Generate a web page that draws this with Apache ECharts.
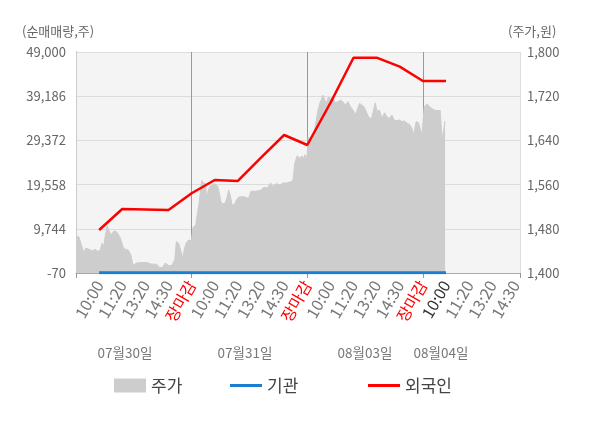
<!DOCTYPE html>
<html>
<head>
<meta charset="utf-8">
<script src="https://cdn.jsdelivr.net/npm/echarts@6/dist/echarts.min.js"></script>
<style>
html, body { margin: 0; padding: 0; background: #fff; }
#main { width: 600px; height: 428px; }
</style>
</head>
<body>
<div id="main"></div>
<script>
// x축 눈금 (슬롯 번호 0..19)
var timeLabels = ['', '10:00', '11:20', '13:20', '14:30', '장마감',
    '10:00', '11:20', '13:20', '14:30', '장마감',
    '10:00', '11:20', '13:20', '14:30', '장마감',
    '10:00', '11:20', '13:20', '14:30'];
var dayLabels = ['07월30일', '07월31일', '08월03일', '08월04일'];
var leftTicks = ['-70', '9,744', '19,558', '29,372', '39,186', '49,000'];
var rightTicks = ['1,400', '1,480', '1,560', '1,640', '1,720', '1,800'];

// 주가 (분봉, x = 슬롯 위치)
var d1x = [0, 0.13, 0.23, 0.35, 0.42, 0.57, 0.72, 0.82, 0.94, 1.05, 1.13, 1.20, 1.27, 1.35, 1.42, 1.52, 1.64, 1.74, 1.84, 1.93, 2.03, 2.13, 2.25, 2.37, 2.47, 2.62, 2.84, 3.06, 3.27, 3.49, 3.60, 3.74, 3.86, 4.01, 4.15, 4.27, 4.34, 4.44, 4.56, 4.62, 4.68, 4.77, 4.88, 4.99];
var d1p = [1467, 1465, 1451, 1436, 1445, 1443, 1440, 1443, 1439, 1442, 1454, 1448, 1469, 1485, 1477, 1469, 1476, 1475, 1469, 1462, 1448, 1442, 1442, 1433, 1414, 1418, 1419, 1419, 1416, 1416, 1410, 1410, 1418, 1413, 1414, 1424, 1457, 1454, 1436, 1427, 1442, 1455, 1460, 1458];
var d2x = [5.06, 5.17, 5.23, 5.31, 5.39, 5.44, 5.51, 5.60, 5.66, 5.72, 5.80, 5.92, 6.03, 6.13, 6.20, 6.27, 6.34, 6.46, 6.53, 6.60, 6.67, 6.75, 6.85, 6.95, 7.06, 7.27, 7.46, 7.56, 7.78, 7.99, 8.13, 8.28, 8.42, 8.52, 8.66, 8.81, 8.95, 9.13, 9.28, 9.38, 9.46, 9.56, 9.68, 9.78, 9.85, 9.89, 9.99];
var d2p = [1483, 1485, 1502, 1523, 1550, 1567, 1563, 1562, 1533, 1550, 1557, 1561, 1561, 1557, 1544, 1529, 1525, 1527, 1537, 1550, 1541, 1523, 1524, 1533, 1538, 1538, 1535, 1548, 1548, 1550, 1555, 1554, 1563, 1556, 1562, 1559, 1563, 1563, 1565, 1567, 1599, 1612, 1608, 1612, 1606, 1614, 1608];
var d3x = [10.04, 10.11, 10.18, 10.25, 10.32, 10.39, 10.47, 10.54, 10.61, 10.68, 10.75, 10.83, 10.90, 11.01, 11.11, 11.21, 11.33, 11.44, 11.54, 11.64, 11.76, 11.87, 11.98, 12.08, 12.16, 12.26, 12.36, 12.45, 12.55, 12.65, 12.77, 12.85, 12.94, 13.02, 13.12, 13.23, 13.34, 13.46, 13.56, 13.66, 13.77, 13.89, 13.99, 14.09, 14.20, 14.32, 14.42, 14.52, 14.60, 14.71, 14.81, 14.89, 14.96];
var d3p = [1646, 1644, 1640, 1647, 1659, 1677, 1695, 1707, 1714, 1722, 1714, 1707, 1718, 1716, 1718, 1708, 1710, 1713, 1710, 1704, 1710, 1701, 1695, 1686, 1687, 1707, 1704, 1701, 1692, 1683, 1678, 1680, 1708, 1692, 1695, 1680, 1690, 1682, 1680, 1686, 1676, 1676, 1677, 1674, 1675, 1671, 1669, 1662, 1650, 1674, 1672, 1671, 1650];
var d4x = [15.06, 15.18, 15.28, 15.38, 15.49, 15.64, 15.75, 15.83, 15.90, 15.96];
var d4p = [1701, 1706, 1702, 1698, 1695, 1694, 1694, 1641, 1639, 1675];

// 순매매량 (누적, 슬롯 1..16)
var flowX = [1, 2, 3, 4, 5, 6, 7, 8, 9, 10, 11, 12, 13, 14, 15, 16];
var foreign = [9480, 14140, 14030, 13920, 17630, 20580, 20360, 25530, 30570, 28350, 37680, 47735, 47735, 45740, 42560, 42560];
var institution = [0, 0, 0, 0, 0, 0, 0, 0, 0, 0, 0, 0, 0, 0, 0, 0];

var LEFT_MIN = -70, LEFT_STEP = 9814, RIGHT_MIN = 1400, RIGHT_STEP = 80;

function pairs(xs, ys, base) {
    return xs.map(function (x, i) { return [x, ys[i] - base]; });
}
var priceData = [].concat(pairs(d1x, d1p, RIGHT_MIN), pairs(d2x, d2p, RIGHT_MIN),
    pairs(d3x, d3p, RIGHT_MIN), pairs(d4x, d4p, RIGHT_MIN));

var myChart = echarts.init(document.getElementById('main'));
var font = '"Noto Sans CJK KR", "Noto Sans", sans-serif';
var legendText = { fontSize: 17, color: '#444', fontFamily: font };

var option = {
    animation: false,
    textStyle: { fontFamily: font },
    grid: {
        left: 76, right: 80, top: 52, bottom: 155,
        show: true, backgroundColor: '#f4f4f4', borderWidth: 0
    },
    legend: [
        { left: 114, top: 377, padding: 0, itemWidth: 32, itemHeight: 14, textStyle: legendText,
          data: [{ name: '주가', icon: 'rect', itemStyle: { color: '#cdcdcd' } }] },
        { left: 230, top: 377, padding: 0, itemWidth: 32, itemHeight: 3, textStyle: legendText,
          data: [{ name: '기관', icon: 'rect', itemStyle: { color: '#1a7fd0' } }] },
        { left: 368, top: 377, padding: 0, itemWidth: 32, itemHeight: 3, textStyle: legendText,
          data: [{ name: '외국인', icon: 'rect', itemStyle: { color: '#ff0000' } }] }
    ],
    xAxis: [{
        type: 'value', min: 0, max: 19.2, interval: 1,
        axisLine: { show: true, lineStyle: { color: '#aaa' } },
        axisTick: { show: false },
        splitLine: { show: false },
        axisLabel: {
            rotate: 60, margin: 9, fontSize: 16, color: '#777', fontFamily: font,
            formatter: function (v) {
                if (Math.abs(v - Math.round(v)) > 1e-6) return '';
                var t = timeLabels[Math.round(v)] || '';
                if (t === '장마감') return '{r|' + t + '}';
                if (Math.round(v) === 16) return '{d|' + t + '}';
                return t;
            },
            rich: {
                r: { color: '#ff0000', fontSize: 16, fontFamily: font },
                d: { color: '#333', fontSize: 16, fontFamily: font }
            }
        }
    }, {
        type: 'value', min: 0, max: 19.2, interval: 5, position: 'bottom',
        axisLine: { show: false },
        axisLabel: { show: false },
        axisTick: { show: true, length: 5, lineStyle: { color: '#999' } },
        splitLine: { show: true, lineStyle: { color: ['#999', '#999', '#999', '#999', '#ddd'] } }
    }],
    yAxis: [{
        type: 'value', min: 0, max: LEFT_STEP * 5, interval: LEFT_STEP,
        axisLine: { show: true, lineStyle: { color: '#999' } },
        axisTick: { show: false },
        splitLine: { show: true, lineStyle: { color: '#dcdcdc' } },
        axisLabel: {
            fontSize: 13, color: '#666', margin: 10, fontFamily: font,
            formatter: function (v) { return leftTicks[Math.round(v / LEFT_STEP)] || ''; }
        }
    }, {
        type: 'value', min: 0, max: RIGHT_STEP * 5, interval: RIGHT_STEP,
        position: 'right',
        axisLine: { show: true, lineStyle: { color: '#ccc' } },
        axisTick: { show: false },
        splitLine: { show: false },
        axisLabel: {
            fontSize: 13, color: '#666', margin: 7, fontFamily: font,
            formatter: function (v) { return rightTicks[Math.round(v / RIGHT_STEP)] || ''; }
        }
    }],
    graphic: [
        { type: 'text', left: 22, top: 25, style: { text: '(순매매량,주)', fill: '#666', font: '13px ' + font } },
        { type: 'text', left: 508, top: 25, style: { text: '(주가,원)', fill: '#666', font: '13px ' + font } },
        { type: 'text', x: 125, y: 353, style: { text: dayLabels[0], textAlign: 'center', textVerticalAlign: 'middle', fill: '#777', font: '13.5px ' + font } },
        { type: 'text', x: 245, y: 353, style: { text: dayLabels[1], textAlign: 'center', textVerticalAlign: 'middle', fill: '#777', font: '13.5px ' + font } },
        { type: 'text', x: 365, y: 353, style: { text: dayLabels[2], textAlign: 'center', textVerticalAlign: 'middle', fill: '#777', font: '13.5px ' + font } },
        { type: 'text', x: 441, y: 353, style: { text: dayLabels[3], textAlign: 'center', textVerticalAlign: 'middle', fill: '#777', font: '13.5px ' + font } }
    ],
    series: [{
        name: '주가', type: 'line', xAxisIndex: 0, yAxisIndex: 1,
        data: priceData, symbol: 'none', z: 1,
        lineStyle: { color: '#cdcdcd', width: 1 },
        itemStyle: { color: '#cdcdcd' },
        areaStyle: { color: '#cdcdcd', opacity: 1 }
    }, {
        name: '기관', type: 'line', xAxisIndex: 0, yAxisIndex: 0,
        data: pairs(flowX, institution, LEFT_MIN), symbol: 'none', z: 3,
        lineStyle: { color: '#1a7fd0', width: 3 },
        itemStyle: { color: '#1a7fd0' }
    }, {
        name: '외국인', type: 'line', xAxisIndex: 0, yAxisIndex: 0,
        data: pairs(flowX, foreign, LEFT_MIN), symbol: 'none', z: 4,
        lineStyle: { color: '#ff0000', width: 2.5 },
        itemStyle: { color: '#ff0000' }
    }]
};
myChart.setOption(option);
</script>
</body>
</html>
